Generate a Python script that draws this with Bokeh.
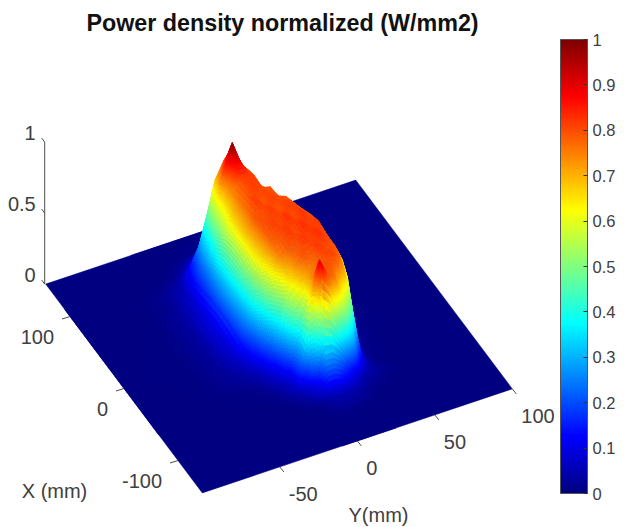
from bokeh.plotting import figure
from bokeh.models import ColorBar, LinearColorMapper, FixedTicker
from bokeh.core.properties import value
from bokeh.embed import file_html
from bokeh.resources import INLINE

TITLE = "Power density normalized (W/mm2)"
X_TICKS = [100, 0, -100]
Y_TICKS = [-50, 0, 50, 100]
Z_TICKS = [0, 0.5, 1]
Z_LABELS = ["0", "0.5", "1"]
CBAR_TICKS = [0, .1, .2, .3, .4, .5, .6, .7, .8, .9, 1]

# power density: rows are X (mm), columns are Y (mm)
Y_MM = [-100, -60, -45, -35, -30, -25, -20, -15, -10, -4, 0, 5, 10, 15, 20, 25, 30, 35, 40, 50, 65, 100]
X_MM = [145, 120, 110, 100, 90, 83, 75, 68, 60, 45, 30, 15, 0, -15, -30, -45, -55, -65, -75, -80, -85, -95, -110, -145]
Z = [
 [0,0,0,0,0,0,0,0,0,0,0,0,0,0,0,0,0,0,0,0,0,0],
 [0,0,0,.001,.003,.005,.008,.012,.015,.012,.008,.005,.002,0,0,0,0,0,0,0,0,0],
 [0,0,.002,.005,.012,.025,.05,.08,.1,.1,.08,.04,.01,.003,0,0,0,0,0,0,0,0],
 [0,.001,.004,.012,.025,.05,.1,.17,.25,.28,.22,.1,.02,.005,0,0,0,0,0,0,0,0],
 [0,.002,.01,.03,.07,.15,.26,.46,.68,.8,.72,.35,.06,.01,.003,0,0,0,0,0,0,0],
 [0,.003,.02,.05,.1,.18,.32,.52,.72,.88,.84,.6,.15,.03,.005,0,0,0,0,0,0,0],
 [0,.003,.02,.06,.12,.22,.36,.55,.79,1.0,.88,.74,.28,.06,.01,.002,0,0,0,0,0,0],
 [0,.003,.02,.07,.14,.24,.38,.58,.74,.88,.86,.8,.5,.12,.03,.005,0,0,0,0,0,0],
 [0,.003,.025,.08,.15,.26,.42,.6,.74,.8,.82,.81,.6,.18,.04,.01,0,0,0,0,0,0],
 [0,.003,.03,.09,.17,.3,.48,.66,.76,.8,.82,.8,.79,.45,.1,.02,.005,0,0,0,0,0],
 [0,.004,.03,.1,.18,.32,.5,.68,.77,.83,.79,.82,.8,.78,.68,.3,.08,.02,.005,0,0,0],
 [0,.004,.03,.1,.18,.32,.5,.69,.8,.8,.83,.79,.82,.81,.75,.55,.16,.04,.01,0,0,0],
 [0,.004,.03,.09,.17,.3,.48,.68,.79,.82,.8,.84,.8,.83,.79,.68,.25,.06,.02,.005,0,0],
 [0,.004,.025,.08,.15,.27,.45,.64,.78,.8,.83,.8,.84,.81,.82,.7,.28,.07,.02,.005,0,0],
 [0,.003,.02,.05,.1,.19,.34,.56,.74,.8,.79,.83,.81,.84,.8,.7,.28,.06,.02,.004,0,0],
 [0,.002,.01,.02,.04,.09,.2,.38,.6,.74,.8,.78,.83,.8,.8,.68,.25,.05,.01,.003,0,0],
 [0,.001,.004,.01,.02,.045,.11,.25,.5,.68,.73,.78,.8,.82,.77,.6,.15,.03,.01,.002,0,0],
 [0,0,.002,.004,.01,.02,.05,.12,.3,.6,.76,.8,.8,.77,.7,.4,.1,.03,.01,0,0,0],
 [0,0,0,.002,.004,.008,.02,.06,.25,.68,.92,.8,.76,.6,.42,.15,.05,.03,.012,.002,0,0],
 [0,0,0,0,.002,.004,.01,.03,.1,.38,.8,.72,.56,.42,.25,.09,.04,.03,.015,.002,0,0],
 [0,0,0,0,0,.002,.005,.015,.04,.14,.3,.3,.25,.17,.09,.04,.025,.015,.005,0,0,0],
 [0,0,0,0,0,0,0,.002,.005,.01,.04,.05,.05,.04,.03,.015,.005,0,0,0,0,0],
 [0,0,0,0,0,0,0,0,0,.002,.003,.005,.005,.003,.002,0,0,0,0,0,0,0],
 [0,0,0,0,0,0,0,0,0,0,0,0,0,0,0,0,0,0,0,0,0,0],
]

TEXT = "#404040"
AXIS = "#4d4d4d"
FONT = "Liberation Sans"


def jet(t):
    def ramp(v):
        return max(0.0, min(1.0, v))
    r = ramp(min(4 * t - 1.5, -4 * t + 4.5))
    g = ramp(min(4 * t - 0.5, -4 * t + 3.5))
    b = ramp(min(4 * t + 0.5, -4 * t + 2.5))
    return "#%02x%02x%02x" % (round(r * 255), round(g * 255), round(b * 255))


PALETTE = [jet(i / 255) for i in range(256)]


def project(x, y, z=0.0):
    """Orthographic view of the MATLAB axes, in the picture's pixels."""
    return (278.5 + 1.55 * y - 0.54 * x, 336 - 0.52 * y - 0.72 * x - 142 * z)


XMIN, XMAX, YMIN, YMAX = X_MM[-1], X_MM[0], Y_MM[0], Y_MM[-1]

p = figure(width=624, height=527, x_range=(0, 624), y_range=(527, 0),
           output_backend="svg", toolbar_location=None, min_border=0,
           outline_line_color=None, background_fill_color="white")
p.xaxis.visible = False
p.yaxis.visible = False
p.grid.visible = False

# floor of the surface
corners = [project(XMAX, YMIN), project(XMIN, YMIN), project(XMIN, YMAX), project(XMAX, YMAX)]
p.patch([c[0] for c in corners], [c[1] for c in corners], fill_color=jet(0), line_color=jet(0), line_width=0.5)

# facets, far corner first, each cell shaded across its four corners
xs, ys, cols = [], [], []
for i in range(len(X_MM) - 1):
    for j in range(len(Y_MM) - 2, -1, -1):
        z00, z01 = Z[i][j], Z[i][j + 1]
        z10, z11 = Z[i + 1][j], Z[i + 1][j + 1]
        top, low = max(z00, z01, z10, z11), min(z00, z01, z10, z11)
        if top < 0.001:
            continue
        SUB = 8 if top - low > 0.1 else 3
        def corner(a, b):
            s, t = a / SUB, b / SUB
            zz = (1 - s) * ((1 - t) * z00 + t * z01) + s * ((1 - t) * z10 + t * z11)
            xx = X_MM[i] + s * (X_MM[i + 1] - X_MM[i])
            yy = Y_MM[j] + t * (Y_MM[j + 1] - Y_MM[j])
            return xx, yy, zz
        for a in range(SUB):
            for b in range(SUB - 1, -1, -1):
                pts = [corner(a, b), corner(a, b + 1), corner(a + 1, b + 1), corner(a + 1, b)]
                scr = [project(*q) for q in pts]
                xs.append([q[0] for q in scr])
                ys.append([q[1] for q in scr])
                cols.append(jet(sum(q[2] for q in pts) / 4))
p.patches(xs, ys, fill_color=cols, line_color=cols, line_width=0.6)

# axes
ax, ay = project(XMAX, YMIN, 0)
bx, by = project(XMAX, YMIN, Z_TICKS[-1])
p.line([ax - 1, bx - 1], [ay, by], line_color=AXIS, line_width=1)
for tz, lab in zip(Z_TICKS, Z_LABELS):
    tx, ty = project(XMAX, YMIN, tz)
    p.line([tx - 1, tx - 4], [ty, ty - 4], line_color=AXIS, line_width=1)
    p.text([tx - 10], [ty - 9], text=[lab], text_align="right", text_baseline="middle",
           text_font=value(FONT), text_font_size="20px", text_color=TEXT)
for tv in X_TICKS:
    tx, ty = project(tv, YMIN)
    p.line([tx, tx - 8], [ty, ty + 2.5], line_color=AXIS, line_width=1)
    p.text([tx - 16], [ty + 20], text=[str(tv)], text_align="right", text_baseline="middle",
           text_font=value(FONT), text_font_size="20px", text_color=TEXT)
for tv in Y_TICKS:
    tx, ty = project(XMIN, tv)
    p.line([tx, tx + 4], [ty, ty + 5], line_color=AXIS, line_width=1)
    p.text([tx + 9], [ty + 27], text=[str(tv)], text_align="left", text_baseline="middle",
           text_font=value(FONT), text_font_size="20px", text_color=TEXT)

p.text([54], [490], text=["X (mm)"], text_align="center", text_baseline="middle",
       text_font=value(FONT), text_font_size="20px", text_color=TEXT)
p.text([378], [514], text=["Y(mm)"], text_align="center", text_baseline="middle",
       text_font=value(FONT), text_font_size="20px", text_color=TEXT)
p.text([282], [22], text=[TITLE], text_align="center", text_baseline="middle",
       text_font=value(FONT), text_font_size="23.3px", text_font_style="bold", text_color="#111111")

mapper = LinearColorMapper(palette=PALETTE, low=0, high=1)
cb = ColorBar(color_mapper=mapper, ticker=FixedTicker(ticks=CBAR_TICKS),
              major_label_overrides={0: "0", 1: "1"},
              location=(560, 34), width=27, height=454, padding=0, margin=0,
              bar_line_color="#555555", bar_line_width=1,
              major_tick_line_color="#333333", major_tick_in=4, minor_tick_line_color=None,
              label_standoff=5, major_label_text_font=FONT, major_label_text_font_size="16.5px",
              major_label_text_color=TEXT, background_fill_alpha=0, border_line_color=None)
p.add_layout(cb)

open("out.html", "w").write(file_html(p, INLINE))
